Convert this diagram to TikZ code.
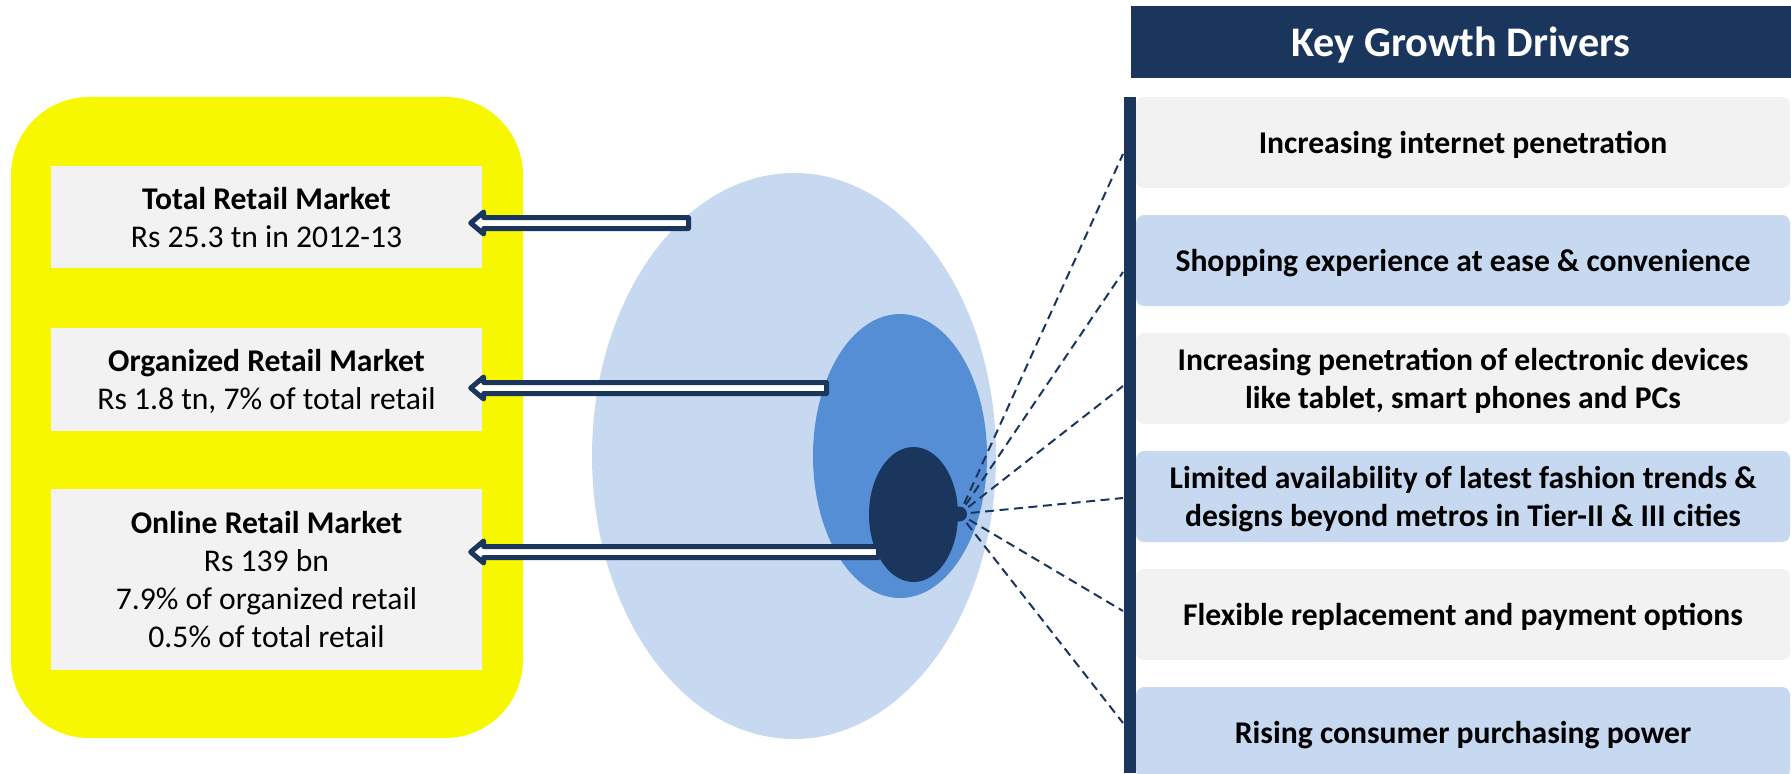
\documentclass[tikz,border=0pt]{standalone}
\usepackage{fontspec}
\setmainfont{Carlito}
\usetikzlibrary{calc}
\definecolor{navy}{HTML}{1B365D}
\definecolor{sky}{HTML}{C6D9F1}
\definecolor{midblue}{HTML}{558ED5}
\definecolor{paleGray}{HTML}{F2F2F2}
\definecolor{marker}{HTML}{F7F700}
% hollow block arrow from tail #1 to tip #2
\newcommand\blockarrow[2]{%
  \draw[hollow] ($(#1)+(0,0.055)$) -- ($(#2)+(0.13,0.055)$) -- ++(0,0.055) -- (#2)
    -- ++(0.13,-0.11) -- ++(0,0.055) -- ($(#1)+(0,-0.055)$) -- cycle;}
\begin{document}
\begin{tikzpicture}[fact/.style={fill=paleGray,align=center,inner sep=0pt,text depth=0pt,
    minimum width=4.31cm,font=\fontsize{9}{10.8}\selectfont},
  driver/.style={rounded corners=0.08cm,align=center,inner sep=0pt,text depth=0pt,
    minimum width=6.54cm,minimum height=0.91cm,font=\fontsize{9}{10.8}\selectfont\bfseries},
  hollow/.style={draw=navy,fill=white,line width=0.05cm,line join=round},
  spoke/.style={navy,line width=0.02cm,dash pattern=on 0.09cm off 0.055cm,shorten <=0.03cm}]
\useasboundingbox (0,0) rectangle (17.91,7.73);
\fill[marker,rounded corners=0.78cm] (0.11,0.35) rectangle (5.23,6.76);
\node[fact,minimum height=1.02cm] (total) at (2.665,5.56)
  {\textbf{Total Retail Market}\\Rs 25.3 tn in 2012-13};
\node[fact,minimum height=1.03cm] (organized) at (2.665,3.935)
  {\textbf{Organized Retail Market}\\Rs 1.8 tn, 7\% of total retail};
\node[fact,minimum height=1.81cm] (online) at (2.665,1.935)
  {\textbf{Online Retail Market}\\Rs 139 bn\\7.9\% of organized retail\\0.5\% of total retail};
% nested markets
\fill[sky] (7.94,3.17) ellipse (2.02 and 2.83);
\fill[midblue] (9.00,3.17) ellipse (0.87 and 1.42);
\fill[navy] (9.135,2.585) ellipse (0.445 and 0.675);
\foreach \y [count=\i] in {6.19,5.01,3.87,2.75,1.62,0.50}
  \coordinate (e\i) at (11.23,\y);
\node[circle,fill=navy,minimum size=0.15cm,inner sep=0pt] (dot) at (9.595,2.59) {};
\foreach \i in {1,...,6}
  \draw[spoke] (dot) -- (e\i);
\coordinate (t1) at (6.885,5.50);
\coordinate (t2) at (8.265,3.85);
\coordinate (t3) at (8.785,2.21);
\coordinate (h1) at ($(total.east |- t1)+(-0.12,0)$);
\coordinate (h2) at ($(organized.east |- t2)+(-0.12,0)$);
\coordinate (h3) at ($(online.east |- t3)+(-0.12,0)$);
\blockarrow{t1}{h1}
\blockarrow{t2}{h2}
\blockarrow{t3}{h3}
% drivers panel
\fill[navy] (11.24,0) rectangle (11.36,6.76);
\node[fill=navy,text=white,minimum width=6.60cm,minimum height=0.72cm,inner sep=0pt,
  text depth=0pt,font=\fontsize{12}{14}\selectfont\bfseries] (head) at (14.61,7.31) {Key Growth Drivers};
\node[driver,fill=paleGray] (d1) at (14.63,6.305) {Increasing internet penetration};
\node[driver,fill=sky] (d2) at (14.63,5.125) {Shopping experience at ease \& convenience};
\node[driver,fill=paleGray] (d3) at (14.63,3.945)
  {Increasing penetration of electronic devices\\like tablet, smart phones and PCs};
\node[driver,fill=sky] (d4) at (14.63,2.765)
  {Limited availability of latest fashion trends \&\\designs beyond metros in Tier-II \& III cities};
\node[driver,fill=paleGray] (d5) at (14.63,1.585) {Flexible replacement and payment options};
\node[driver,fill=sky] (d6) at (14.63,0.405) {Rising consumer purchasing power};
\end{tikzpicture}
\end{document}
